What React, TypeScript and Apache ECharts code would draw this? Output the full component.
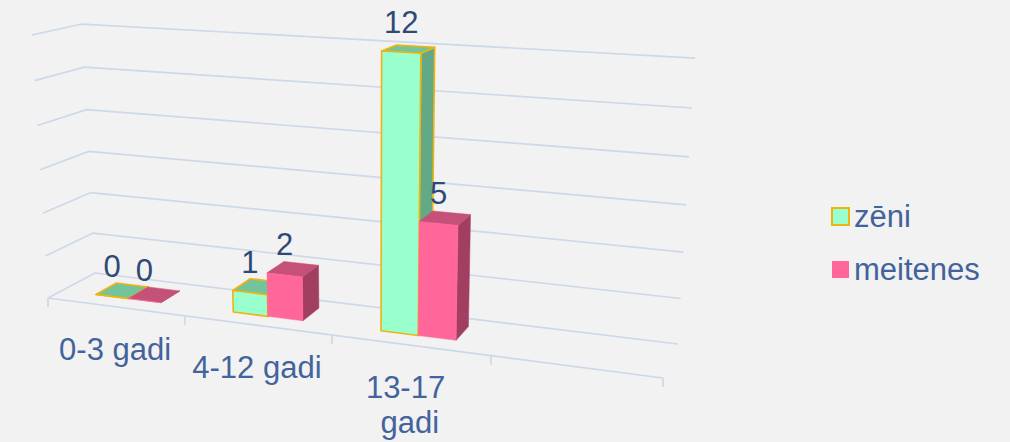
import React, { useEffect, useRef } from 'react';
import * as echarts from 'echarts';

// ---- data ----
const categories = ['0-3 gadi', '4-12 gadi', '13-17 gadi', ''];
const seriesNames = ['zēni', 'meitenes'];
const zeniValues: (number | null)[] = [0, 1, 12, null];
const meitenesValues: (number | null)[] = [0, 2, 5, null];
const valueTicks = [0, 2, 4, 6, 8, 10, 12];
const Y_MIN = 0;
const Y_MAX = 12;
const Y_INTERVAL = 2;

// ---- perspective projection (u: category axis 0..1, d: depth 0 front..1 back, v: value 0..1) ----
const AX = [48, 520.6, 52.57, -17.7];
const AY = [298, 26.2, -9.0, -264.7];
const AW = [1, -0.1424, 0.0586, -0.0479];
function proj(u: number, d: number, v: number): number[] {
  const w = AW[0] + AW[1] * u + AW[2] * d + AW[3] * v;
  return [
    (AX[0] + AX[1] * u + AX[2] * d + AX[3] * v) / w,
    (AY[0] + AY[1] * u + AY[2] * d + AY[3] * v) / w,
  ];
}

const D0 = 0.3;
const D1 = 0.75;
const BAR_START = 0.254;
const BAR_W = 0.2405;

const FONT = 'Liberation Sans, Arial, sans-serif';
const FS = 31;
const GRID_COLOR = '#CDD8E8';
const AXIS_TEXT = '#42639B';
const DATA_TEXT = '#2E4A74';

const palettes = [
  { front: '#99FFCC', top: '#73C39B', side: '#64A985', stroke: '#EFB312', lw: 1.6 },
  { front: '#FF6699', top: '#C55078', side: '#A23E60', stroke: null as string | null, lw: 0 },
];

function frame(api: any) {
  const bw = api.size([1, 0])[0];
  const o = api.coord([0, Y_MIN]);
  const left = o[0] - bw / 2;
  const total = bw * categories.length;
  const topY = api.coord([0, Y_MAX])[1];
  return { bw, left, total, bottom: o[1], height: o[1] - topY };
}

function makeBarRender(s: number) {
  const pal = palettes[s];
  return (params: any, api: any) => {
    const idx = api.value(0);
    const val = api.value(1);
    const f = frame(api);
    const c = api.coord([idx, val]);
    const catW = f.bw / f.total;
    const catU0 = (c[0] - f.bw / 2 - f.left) / f.total;
    const u0 = catU0 + (BAR_START + s * BAR_W) * catW;
    const u1 = u0 + BAR_W * catW;
    const v = (f.bottom - c[1]) / f.height;
    const st = (fill: string) => ({
      fill,
      stroke: pal.stroke || fill,
      lineWidth: pal.stroke ? pal.lw : 0.5,
      lineJoin: 'round',
    });
    const side = [proj(u1, D0, 0), proj(u1, D1, 0), proj(u1, D1, v), proj(u1, D0, v)];
    const top = [proj(u0, D0, v), proj(u1, D0, v), proj(u1, D1, v), proj(u0, D1, v)];
    const front = [proj(u0, D0, 0), proj(u1, D0, 0), proj(u1, D0, v), proj(u0, D0, v)];
    const lp = proj((u0 + u1) / 2, D0, v);
    return {
      type: 'group',
      children: [
        { type: 'polygon', shape: { points: side }, style: st(pal.side) },
        { type: 'polygon', shape: { points: top }, style: st(pal.top) },
        { type: 'polygon', shape: { points: front }, style: st(pal.front) },
        {
          type: 'text',
          z2: 100,
          style: {
            text: String(val),
            x: lp[0],
            y: lp[1] - 30,
            fill: DATA_TEXT,
            font: `${FS}px ${FONT}`,
            align: 'center',
            verticalAlign: 'middle',
          },
        },
      ],
    };
  };
}

function gridRender(params: any, api: any) {
  const t = api.value(1);
  const f = frame(api);
  const v = (f.bottom - api.coord([0, t])[1]) / f.height;
  const children: any[] = [
    {
      type: 'polyline',
      shape: { points: [proj(0, 0, v), proj(0, 1, v), proj(1, 1, v)] },
      style: { stroke: GRID_COLOR, lineWidth: 1.7, fill: 'none' },
    },
  ];
  if (t === Y_MIN) {
    children.push({
      type: 'polyline',
      shape: { points: [proj(0, 0, 0), proj(1, 0, 0)] },
      style: { stroke: GRID_COLOR, lineWidth: 1.7, fill: 'none' },
    });
  }
  return { type: 'group', children };
}

function axisRender(params: any, api: any) {
  const idx = api.value(0);
  const f = frame(api);
  const c = api.coord([idx, Y_MIN]);
  const catW = f.bw / f.total;
  const uL = (c[0] - f.bw / 2 - f.left) / f.total;
  const uC = uL + catW / 2;
  const children: any[] = [];
  const tick = (u: number) => {
    const p = proj(u, 0, 0);
    children.push({
      type: 'line',
      shape: { x1: p[0], y1: p[1], x2: p[0], y2: p[1] + 9 },
      style: { stroke: GRID_COLOR, lineWidth: 1.7 },
    });
  };
  tick(uL);
  if (idx === categories.length - 1) tick(uL + catW);
  const lp = proj(uC, 0, 0);
  const name = categories[idx];
  if (name) {
    children.push({
      type: 'text',
      style: {
        text: name,
        x: lp[0],
        y: lp[1] + 25,
        width: 140,
        overflow: 'break',
        lineHeight: 35,
        fill: AXIS_TEXT,
        font: `${FS}px ${FONT}`,
        align: 'center',
        verticalAlign: 'top',
      },
    });
  }
  return { type: 'group', children };
}

export default function App() {
  const ref = useRef<HTMLDivElement>(null);
  useEffect(() => {
    if (!ref.current) return;
    const chart = echarts.init(ref.current, undefined, { renderer: 'svg' });
    const toData = (vals: (number | null)[]) =>
      vals.map((v, i) => (v == null ? null : [i, v])).filter((x) => x !== null);
    chart.setOption({
      animation: false,
      backgroundColor: '#F2F2F2',
      grid: { left: 0, top: 0, width: 400, height: 400, show: false },
      xAxis: { type: 'category', data: categories, show: false },
      yAxis: { type: 'value', min: Y_MIN, max: Y_MAX, interval: Y_INTERVAL, show: false },
      legend: {
        orient: 'vertical',
        left: 826,
        top: 196,
        itemWidth: 17,
        itemHeight: 17,
        itemGap: 22,
        icon: 'rect',
        textStyle: { fontSize: FS, color: AXIS_TEXT, fontFamily: FONT },
        data: [
          { name: seriesNames[0], itemStyle: { color: palettes[0].front, borderColor: palettes[0].stroke, borderWidth: 2 } },
          { name: seriesNames[1], itemStyle: { color: palettes[1].front, borderWidth: 0 } },
        ],
      },
      series: [
        {
          type: 'custom',
          name: 'grid',
          z: 1,
          silent: true,
          renderItem: gridRender,
          data: valueTicks.map((t) => [0, t]),
        },
        {
          type: 'custom',
          name: 'axis',
          z: 1,
          silent: true,
          renderItem: axisRender,
          data: categories.map((c, i) => [i, 0]),
        },
        {
          type: 'custom',
          name: seriesNames[0],
          z: 2,
          itemStyle: { color: palettes[0].front, borderColor: palettes[0].stroke, borderWidth: 2 },
          renderItem: makeBarRender(0),
          data: toData(zeniValues),
        },
        {
          type: 'custom',
          name: seriesNames[1],
          z: 3,
          itemStyle: { color: palettes[1].front },
          renderItem: makeBarRender(1),
          data: toData(meitenesValues),
        },
      ],
    });
    return () => chart.dispose();
  }, []);
  return (
    <div
      ref={ref}
      style={{ position: 'fixed', left: 0, top: 0, width: 1010, height: 442, background: '#F2F2F2' }}
    />
  );
}
